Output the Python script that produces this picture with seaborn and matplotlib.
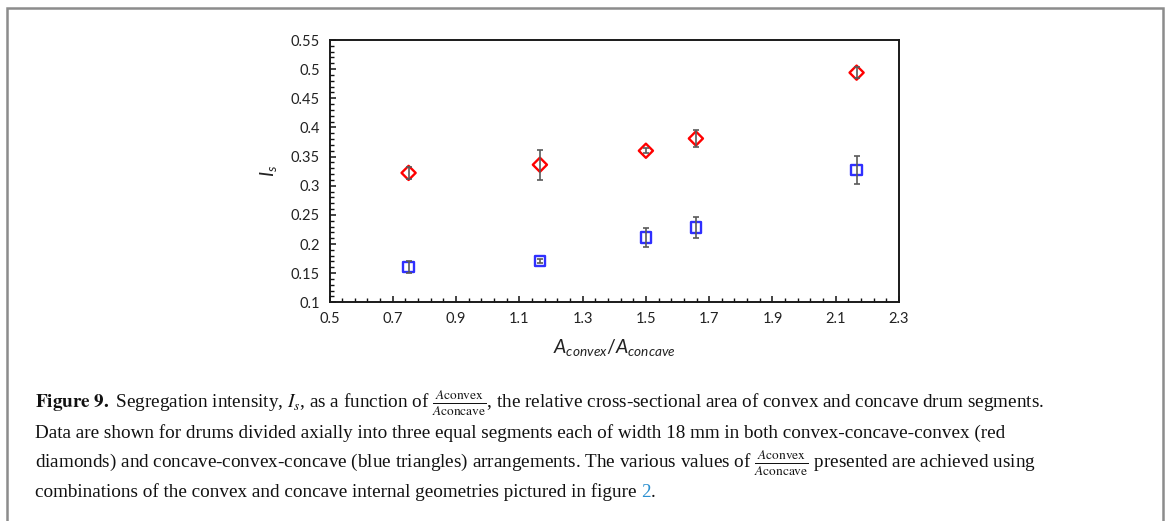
import numpy as np
import pandas as pd
import matplotlib
matplotlib.use("Agg")
import matplotlib.pyplot as plt
import matplotlib.patches as mpatches
from matplotlib.ticker import FixedLocator, FixedFormatter
import seaborn as sns

# ---------------- data ----------------
area_ratio = [0.75, 1.165, 1.5, 1.658, 2.166]
is_cvx_ccv_cvx = [0.322, 0.336, 0.360, 0.381, 0.494]      # red diamonds
err_cvx_ccv_cvx = [0.010, 0.026, 0.004, 0.014, 0.009]
is_ccv_cvx_ccv = [0.161, 0.171, 0.211, 0.228, 0.327]      # blue squares
err_ccv_cvx_ccv = [0.010, 0.003, 0.016, 0.018, 0.024]

x_ticks = [0.5, 0.7, 0.9, 1.1, 1.3, 1.5, 1.7, 1.9, 2.1, 2.3]
x_tick_labels = ["0.5", "0.7", "0.9", "1.1", "1.3", "1.5", "1.7", "1.9", "2.1", "2.3"]
y_ticks = [0.1, 0.15, 0.2, 0.25, 0.3, 0.35, 0.4, 0.45, 0.5, 0.55]
y_tick_labels = ["0.1", "0.15", "0.2", "0.25", "0.3", "0.35", "0.4", "0.45", "0.5", "0.55"]

x_label = r"$A_{convex}/A_{concave}$"
y_label = r"$I_s$"

caption_lines = [
    r"$\mathbf{Figure\ 9.}$ Segregation intensity, $I_s$, as a function of "
    r"$\frac{A\mathrm{convex}}{A\mathrm{concave}}$, the relative cross-sectional area of convex and concave drum segments.",
    "Data are shown for drums divided axially into three equal segments each of width 18 mm in both convex-concave-convex (red",
    r"diamonds) and concave-convex-concave (blue triangles) arrangements. The various values of "
    r"$\frac{A\mathrm{convex}}{A\mathrm{concave}}$ presented are achieved using",
]
caption_last = ["combinations of the convex and concave internal geometries pictured in figure ", "2", "."]

# ---------------- style ----------------
sns.set_style("white")
plt.rcParams["font.family"] = ["Lato", "DejaVu Sans"]
plt.rcParams["mathtext.fontset"] = "custom"
plt.rcParams["mathtext.it"] = "Lato:italic"
plt.rcParams["mathtext.rm"] = "Lato"
plt.rcParams["mathtext.bf"] = "Lato:bold"

W, H = 1170, 521
fig = plt.figure(figsize=(W / 100, H / 100), dpi=100)
fig.patch.set_facecolor("white")

left, right, top, bottom = 329.5, 899.0, 40.0, 302.3
ax = fig.add_axes([left / W, 1 - bottom / H, (right - left) / W, (bottom - top) / H])

red = "#ff0000"
blue = "#2f2fff"
gray = "#5a5a5a"

ax.errorbar(area_ratio, is_cvx_ccv_cvx, yerr=err_cvx_ccv_cvx, fmt="none",
            ecolor=gray, elinewidth=1.2, capsize=2.5, capthick=1.2, zorder=4)
ax.errorbar(area_ratio, is_ccv_cvx_ccv, yerr=err_ccv_cvx_ccv, fmt="none",
            ecolor=gray, elinewidth=1.2, capsize=2.5, capthick=1.2, zorder=4)

sns.scatterplot(x=area_ratio, y=is_cvx_ccv_cvx, marker="D", s=52, color=red,
                facecolor="none", edgecolor=red, linewidth=1.7, ax=ax, zorder=3, legend=False)
sns.scatterplot(x=area_ratio, y=is_ccv_cvx_ccv, marker="s", s=56, color=blue,
                facecolor="none", edgecolor=blue, linewidth=1.7, ax=ax, zorder=3, legend=False)

ax.set_xlim(0.5, 2.3)
ax.set_ylim(0.1, 0.55)
ax.xaxis.set_major_locator(FixedLocator(x_ticks))
ax.xaxis.set_major_formatter(FixedFormatter(x_tick_labels))
ax.yaxis.set_major_locator(FixedLocator(y_ticks))
ax.yaxis.set_major_formatter(FixedFormatter(y_tick_labels))
ax.xaxis.set_minor_locator(FixedLocator(np.arange(0.5, 2.3001, 0.04)))
ax.yaxis.set_minor_locator(FixedLocator(np.arange(0.1, 0.5501, 0.01)))
ax.tick_params(which="both", direction="in", bottom=True, left=True, top=False, right=False,
               colors="#111111", labelcolor="#222222", labelsize=10.5, pad=7)
ax.tick_params(which="major", length=4.2, width=1.1)
ax.tick_params(which="minor", length=2.8, width=1.0)
for sp in ax.spines.values():
    sp.set_visible(True)
    sp.set_color("#1a1a1a")
    sp.set_linewidth(1.4)

ax.set_xlabel(x_label, fontsize=14, labelpad=8, color="#222222")
ax.set_ylabel(y_label, fontsize=14, labelpad=8, color="#222222")

# ---------------- caption ----------------
cap_kw = dict(family="Liberation Serif", fontsize=13.8, color="#111111", math_fontfamily="stix",
              va="baseline", ha="left")
x0 = 35 / W
baselines = [408, 438, 468, 497]
for line, yb in zip(caption_lines, baselines[:3]):
    fig.text(x0, 1 - yb / H, line, **cap_kw)

renderer = fig.canvas.get_renderer()


def advance(s):
    t1 = fig.text(0, 0, s + "x", **cap_kw)
    t2 = fig.text(0, 0, "x", **cap_kw)
    w = t1.get_window_extent(renderer).width - t2.get_window_extent(renderer).width
    t1.remove()
    t2.remove()
    return w


xpos = 35.0
colors_last = ["#111111", "#2a8fd0", "#111111"]
for piece, c in zip(caption_last, colors_last):
    kw = dict(cap_kw)
    kw["color"] = c
    fig.text(xpos / W, 1 - baselines[3] / H, piece, **kw)
    xpos += advance(piece)

# outer frame
frame = mpatches.Rectangle((7 / W, -0.05), (1163 - 7) / W, 1 - 8 / H + 0.05, fill=False,
                           edgecolor="#8c8c8c", linewidth=1.8, transform=fig.transFigure,
                           clip_on=False)
fig.add_artist(frame)

fig.savefig("out.png", dpi=100)
